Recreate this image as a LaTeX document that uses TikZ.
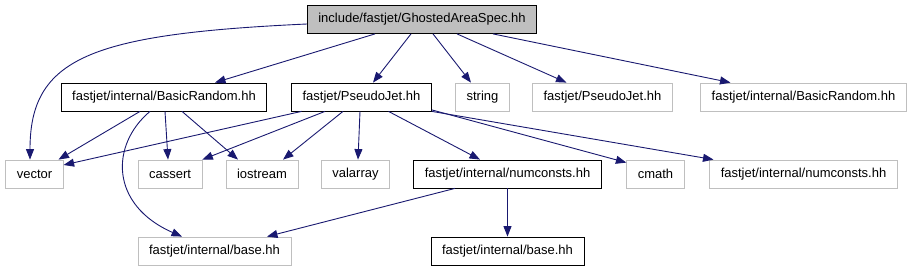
\documentclass[tikz,border=0pt]{standalone}
\usepackage{fontspec}
\setmainfont{Liberation Sans}
\usetikzlibrary{arrows.meta}
\definecolor{edgeblue}{HTML}{191970}
\definecolor{boxgrey}{HTML}{BFBFBF}
\begin{document}
\begin{tikzpicture}[x=1pt,y=-1pt,
  file/.style={draw, line width=0.8pt, inner xsep=11pt, minimum height=28pt, font=\fontsize{13}{15}\selectfont},
  known/.style={file, draw=black},
  extern/.style={file, draw=boxgrey},
  dep/.style={draw=edgeblue, line width=0.9pt, -{Triangle[length=10.5pt,width=8pt]}}]
\useasboundingbox (0,0) rectangle (913,272);
% row 0
\node[known, fill=boxgrey] (root) at (422,19.5) {include/fastjet/GhostedAreaSpec.hh};
% row 1
\node[known] (br) at (164,97) {fastjet/internal/BasicRandom.hh};
\node[known] (pj) at (361.5,97) {fastjet/PseudoJet.hh};
\node[extern] (str) at (482.5,97) {string};
\node[extern] (pjx) at (602.5,97) {fastjet/PseudoJet.hh};
\node[extern] (brx) at (803.5,97) {fastjet/internal/BasicRandom.hh};
% row 2
\node[extern] (vec) at (34.5,174) {vector};
\node[extern] (cas) at (170,174) {cassert};
\node[extern] (ios) at (262,174) {iostream};
\node[extern] (val) at (355.5,174) {valarray};
\node[known] (nc) at (507.5,174) {fastjet/internal/numconsts.hh};
\node[extern] (cm) at (655.5,174) {cmath};
\node[extern] (ncx) at (803.5,174) {fastjet/internal/numconsts.hh};
% row 3
\node[extern] (bs) at (214.5,251) {fastjet/internal/base.hh};
\node[known] (bsk) at (507.5,251) {fastjet/internal/base.hh};
% root includes
\draw[dep] ([yshift=-4.5pt]root.west) .. controls (90,34) and (30,58) .. ([xshift=-4.5pt]vec.north);
\draw[dep] ([xshift=-47pt]root.south) -- ([xshift=51pt]br.north);
\draw[dep] ([xshift=-11pt]root.south) -- ([xshift=11.5pt]pj.north);
\draw[dep] ([xshift=11pt]root.south) -- ([xshift=-11.5pt]str.north);
\draw[dep] ([xshift=35pt]root.south) -- ([xshift=-36pt]pjx.north);
\draw[dep] ([xshift=71pt]root.south) -- ([xshift=-73pt]brx.north);
% BasicRandom includes
\draw[dep] ([xshift=-24pt]br.south) -- ([xshift=24pt]vec.north);
\draw[dep] ([xshift=1pt]br.south) -- ([xshift=-2pt]cas.north);
\draw[dep] ([xshift=18pt]br.south) -- ([xshift=-24pt]ios.north);
\draw[dep] ([xshift=-14pt]br.south) .. controls (110,145) and (110,205) .. ([xshift=-32.5pt]bs.north);
% PseudoJet includes
\draw[dep] ([xshift=-60pt]pj.south) -- ([yshift=9pt]vec.east);
\draw[dep] ([xshift=-36.5pt]pj.south) -- (cas.north east);
\draw[dep] ([xshift=-18.5pt]pj.south) -- ([xshift=21pt]ios.north);
\draw[dep] ([xshift=-1.5pt]pj.south) -- ([xshift=2.5pt]val.north);
\draw[dep] ([xshift=27pt]pj.south) -- ([xshift=-27.5pt]nc.north);
\draw[dep] ([yshift=1.5pt]pj.south east) -- ([yshift=-3pt]cm.north west);
\draw[dep] (pj.south east) -- ([xshift=-90pt]ncx.north);
% numconsts includes
\draw[dep] ([xshift=-52.5pt]nc.south) -- ([xshift=52.5pt]bs.north);
\draw[dep] (nc.south) -- (bsk.north);
\end{tikzpicture}
\end{document}
